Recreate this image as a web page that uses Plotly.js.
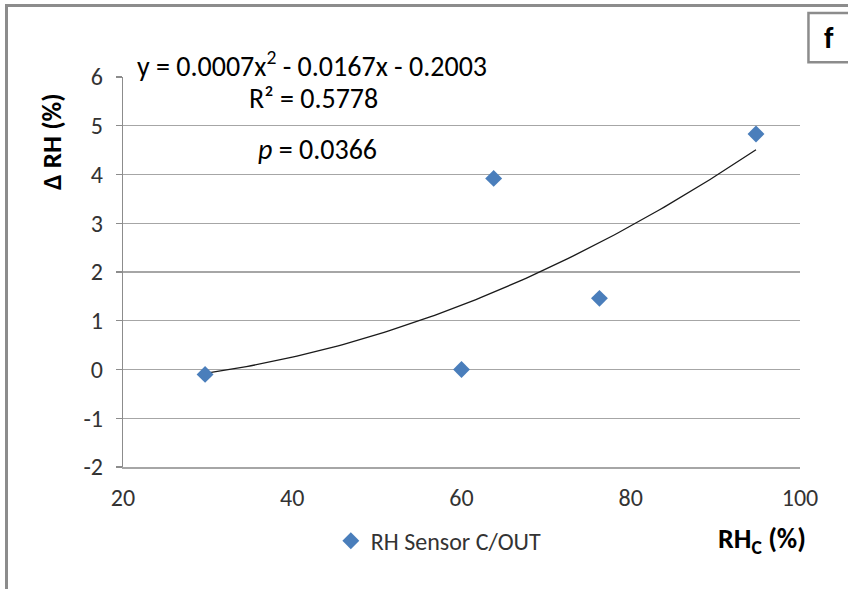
<!DOCTYPE html>
<html>
<head>
<meta charset="utf-8">
<script src="https://cdn.plot.ly/plotly-3.0.1.min.js"></script>
<style>
  html, body { margin: 0; padding: 0; background: #fff; }
  #wrap { position: relative; width: 848px; height: 589px; overflow: hidden; }
  #chart { position: absolute; left: 0; top: 0; width: 848px; height: 589px; }
  #frame { position: absolute; left: 5px; top: 4px; width: 900px; height: 700px;
           border-left: 3px solid #8c8c8c; border-top: 3px solid #8c8c8c; pointer-events: none; }
</style>
</head>
<body>
<div id="wrap">
  <div id="chart"></div>
  <div id="frame"></div>
</div>
<script>
// Relative humidity measured by the chamber sensor vs. the sensor deviation
const rhC = [29.7, 60.0, 63.8, 76.3, 94.8];
const deltaRH = [-0.1, 0.0, 3.92, 1.46, 4.83];
const seriesName = 'RH Sensor C/OUT';

// Second-order polynomial trendline coefficients (a·x² + b·x + c)
const trendCoef = [0.0007, -0.0167, -0.2003];
const rSquared = '0.5778';
const pValue = '0.0366';

const xTicks = [20, 40, 60, 80, 100];
const yTicks = [-2, -1, 0, 1, 2, 3, 4, 5, 6];

// Trendline drawn across the span of the measured points
const xMin = Math.min(...rhC), xMax = Math.max(...rhC);
const trendX = [], trendY = [];
for (let i = 0; i <= 120; i++) {
  const x = xMin + (xMax - xMin) * i / 120;
  trendX.push(x);
  trendY.push(trendCoef[0] * x * x + trendCoef[1] * x + trendCoef[2]);
}

const FONT = "Carlito, Calibri, 'Liberation Sans Narrow', 'Open Sans', sans-serif";
const GRID = '#a6a6a6';
const AXIS = '#8c8c8c';
const TEXT = '#333333';

const traces = [
  {
    x: trendX, y: trendY, type: 'scatter', mode: 'lines',
    line: { color: '#1a1a1a', width: 1.3 },
    showlegend: false, hoverinfo: 'skip'
  },
  {
    x: rhC, y: deltaRH, type: 'scatter', mode: 'markers', name: seriesName,
    marker: { symbol: 'diamond', size: 13, color: '#4a7ebb' }
  }
];

const fmt = v => v.toFixed(4);
const eqText = 'y = ' + fmt(trendCoef[0]) + 'x<sup>2</sup> - ' + fmt(Math.abs(trendCoef[1])) +
               'x - ' + fmt(Math.abs(trendCoef[2]));

const note = (text, x, y, size, extra) => Object.assign({
  text, xref: 'paper', yref: 'paper', x, y, xanchor: 'center', yanchor: 'middle',
  showarrow: false, font: { family: FONT, size, color: '#000' }
}, extra || {});

const layout = {
  width: 848, height: 589,
  margin: { l: 123, r: 48, t: 77, b: 122 },
  paper_bgcolor: '#fff', plot_bgcolor: '#fff',
  font: { family: FONT, size: 24, color: TEXT },
  showlegend: true,
  legend: {
    orientation: 'h', x: 0.307, y: -0.19, xanchor: 'left', yanchor: 'middle',
    font: { family: FONT, size: 24, color: TEXT }, bgcolor: 'rgba(0,0,0,0)'
  },
  xaxis: {
    range: [20, 100], tickvals: xTicks, ticktext: xTicks.map(String),
    showgrid: false, zeroline: false,
    showline: true, linecolor: GRID, linewidth: 1.5,
    ticks: '', ticklabelstandoff: 9,
    tickfont: { family: FONT, size: 24, color: TEXT }
  },
  xaxis2: {
    overlaying: 'x', matches: 'x', anchor: 'free', position: 0.25, side: 'bottom',
    range: [20, 100], tickvals: xTicks, showticklabels: false,
    showgrid: false, zeroline: false,
    showline: true, linecolor: AXIS, linewidth: 1.2,
    ticks: 'outside', ticklen: 7, tickcolor: AXIS, tickwidth: 1.2
  },
  yaxis: {
    range: [-2, 6], tickvals: yTicks, ticktext: yTicks.map(String),
    showgrid: true, gridcolor: GRID, gridwidth: 1.3, zeroline: false,
    showline: true, linecolor: AXIS, linewidth: 1.2,
    ticks: 'outside', ticklen: 6, tickcolor: AXIS, tickwidth: 1.2,
    ticklabelstandoff: 8,
    tickfont: { family: FONT, size: 24, color: TEXT }
  },
  annotations: [
    note(eqText, 0.279, 1.033, 28),
    note('R² = ' + rSquared, 0.281, 0.946, 28),
    note('<i>p</i> = ' + pValue, 0.288, 0.815, 28),
    note('<b>Δ RH (%)</b>', -0.105, 0.836, 27, { textangle: -90 }),
    note('<b>RH<sub>C</sub> (%)</b>', 0.944, -0.187, 28),
    note('<b>f</b>', 1.043, 1.1, 30)
  ],
  shapes: [
    { type: 'rect', xref: 'paper', yref: 'paper', x0: 1.0125, x1: 1.08, y0: 1.038, y1: 1.164,
      line: { color: '#8c8c8c', width: 2.5 }, fillcolor: 'rgba(0,0,0,0)' }
  ]
};

Plotly.newPlot('chart', traces, layout, { staticPlot: true });
</script>
</body>
</html>
